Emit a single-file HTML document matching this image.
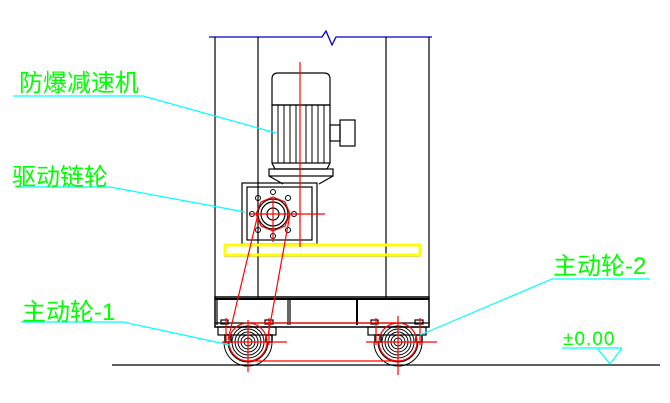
<!DOCTYPE html>
<html><head><meta charset="utf-8"><style>
html,body{margin:0;padding:0;background:#fff;width:670px;height:403px;overflow:hidden}
text{font-family:"Liberation Sans","Noto Sans CJK SC",sans-serif;fill:#00ff00}
</style></head><body>
<svg width="670" height="403" viewBox="0 0 670 403" xmlns="http://www.w3.org/2000/svg">
<polyline points="209,37 322,37 326,31 332,45 336,37 432,37" fill="none" stroke="#0000cc" stroke-width="1.3"/>
<g stroke="#000" stroke-width="1.2" fill="none">
<line x1="215" y1="37" x2="215" y2="298"/>
<line x1="258" y1="37" x2="258" y2="298"/>
<line x1="386" y1="37" x2="386" y2="298"/>
<line x1="429" y1="37" x2="429" y2="298"/>
<line x1="224" y1="256" x2="420" y2="256"/>
<path d="M272,105 L272,79 Q272,73 278,73 L324,73 Q330,73 330,79 L330,105 Z"/>
<rect x="272" y="105" width="58" height="58"/>
<g stroke-width="1">
<line x1="278" y1="105" x2="278" y2="163"/><line x1="284" y1="105" x2="284" y2="163"/>
<line x1="290" y1="105" x2="290" y2="163"/><line x1="296" y1="105" x2="296" y2="163"/>
<line x1="306" y1="105" x2="306" y2="163"/><line x1="312" y1="105" x2="312" y2="163"/>
<line x1="318" y1="105" x2="318" y2="163"/><line x1="324" y1="105" x2="324" y2="163"/>
</g>
<path d="M272,163 L275,169 L327,169 L330,163"/>
<rect x="269" y="169" width="64" height="7"/>
<path d="M269,176 L283,184 M333,176 L319,184"/>
<rect x="330" y="125" width="10" height="16"/>
<rect x="340" y="120" width="15" height="26"/>
<rect x="242" y="183" width="75" height="61"/>
<rect x="247" y="187" width="65" height="53"/>
<circle cx="273" cy="214" r="6"/>
<circle cx="273" cy="214" r="12"/>
<circle cx="273" cy="214" r="15"/>
<g stroke-width="1">
<circle cx="258" cy="198" r="2.5"/><circle cx="288" cy="198" r="2.5"/>
<circle cx="258" cy="230" r="2.5"/><circle cx="288" cy="230" r="2.5"/>
<circle cx="273" cy="192" r="2.5"/><circle cx="273" cy="236" r="2.5"/>
<circle cx="252" cy="214" r="2.5"/><circle cx="294" cy="214" r="2.5"/>
</g>
<rect x="215" y="297" width="214" height="30" stroke-width="1.5"/>
<line x1="215" y1="299" x2="429" y2="299" stroke-width="2"/>
<line x1="217" y1="299" x2="217" y2="325"/>
<line x1="288" y1="299" x2="288" y2="325"/><line x1="290" y1="299" x2="290" y2="325"/>
<line x1="357" y1="299" x2="357" y2="325" stroke-width="2"/>
<line x1="215" y1="323" x2="429" y2="323"/>
<rect x="218" y="327" width="58" height="8"/>
<rect x="368" y="327" width="58" height="8"/>
<rect x="221" y="320" width="7" height="4"/><rect x="265" y="320" width="8" height="4"/>
<rect x="371" y="320" width="7" height="4"/><rect x="415" y="320" width="8" height="4"/>
<rect x="225" y="335" width="6" height="7" stroke-width="1.5"/><rect x="266" y="335" width="6" height="7" stroke-width="1.5"/>
<rect x="375" y="335" width="6" height="7" stroke-width="1.5"/><rect x="416" y="335" width="6" height="7" stroke-width="1.5"/>
<g stroke-width="1">
<circle cx="248" cy="342" r="4"/><circle cx="248" cy="342" r="7"/><circle cx="248" cy="342" r="10"/><circle cx="248" cy="342" r="13"/><circle cx="248" cy="342" r="16"/>
<path d="M228,342 A20,20 0 0 0 268,342 M224,342 A24,24 0 0 0 272,342"/>
<circle cx="398" cy="342" r="4"/><circle cx="398" cy="342" r="7"/><circle cx="398" cy="342" r="10"/><circle cx="398" cy="342" r="13"/><circle cx="398" cy="342" r="16"/>
<path d="M378,342 A20,20 0 0 0 418,342 M374,342 A24,24 0 0 0 422,342"/>
</g>
<line x1="112" y1="365" x2="660" y2="365"/>
</g>
<rect x="225" y="245" width="195" height="10" fill="none" stroke="#ffff00" stroke-width="3"/>
<g stroke="#ff0000" stroke-width="1.2" fill="none">
<line x1="300" y1="62" x2="300" y2="247"/>
<line x1="250" y1="214" x2="325" y2="214"/>
<line x1="273" y1="198" x2="273" y2="242"/>
<polygon points="273,197 285,202 290,214 285,226 273,231 261,226 256,214 261,202"/>
<line x1="258" y1="214" x2="228" y2="340"/>
<line x1="290" y1="214" x2="268" y2="336"/>
<circle cx="248" cy="342" r="19"/>
<circle cx="398" cy="342" r="19"/>
<line x1="248" y1="323" x2="398" y2="323"/>
<line x1="248" y1="361" x2="398" y2="361"/>
<line x1="248" y1="320" x2="248" y2="372"/><line x1="222" y1="342" x2="287" y2="342"/>
<line x1="398" y1="316" x2="398" y2="375"/><line x1="366" y1="342" x2="437" y2="342"/>
<line x1="226" y1="318" x2="226" y2="345"/><line x1="269" y1="318" x2="269" y2="345"/>
<line x1="376" y1="318" x2="376" y2="345"/><line x1="420" y1="318" x2="420" y2="345"/>
</g>
<g stroke="#00ffff" stroke-width="1.2" fill="none">
<polyline points="13,96 143,96 276,133"/>
<polyline points="15,187 110,187 245,212"/>
<polyline points="21,322 123,322 230,345"/>
<polyline points="650,279 552,279 420,335"/>
<line x1="562" y1="348" x2="622" y2="348"/>
<polyline points="597,348 610,364 622,348"/>
</g>
<text x="19" y="91" font-size="24">防爆减速机</text>
<text x="12" y="185" font-size="24">驱动链轮</text>
<text x="22" y="320" font-size="24">主动轮-1</text>
<text x="553" y="274" font-size="24">主动轮-2</text>
<text x="563" y="345" font-size="19" letter-spacing="1">±0.00</text>
</svg>
</body></html>
